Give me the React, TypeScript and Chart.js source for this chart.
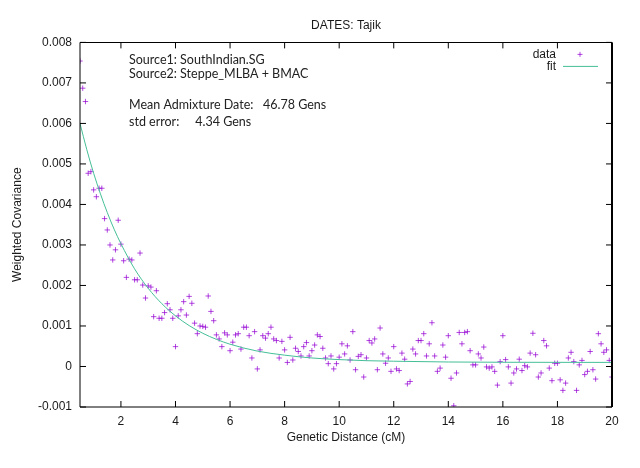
import React, { useEffect, useRef } from "react";
import { Chart, registerables } from "chart.js";

Chart.register(...registerables);

// ---------- text ----------
const chartTitle = "DATES: Tajik";
const xAxisTitle = "Genetic Distance (cM)";
const yAxisTitle = "Weighted Covariance";
const dataLabel = "data";
const fitLabel = "fit";
const infoLines = [
  "Source1: SouthIndian.SG",
  "Source2: Steppe_MLBA + BMAC",
  "",
  "Mean Admixture Date:   46.78 Gens",
  "std error:     4.34 Gens",
];

// ---------- axes ----------
const xMin = 0.5;
const xMax = 20;
const yMin = -0.001;
const yMax = 0.008;
const xTicks = [2, 4, 6, 8, 10, 12, 14, 16, 18, 20];
const xTickLabels = ["2", "4", "6", "8", "10", "12", "14", "16", "18", "20"];
const yTicks = [-0.001, 0, 0.001, 0.002, 0.003, 0.004, 0.005, 0.006, 0.007, 0.008];
const yTickLabels = ["-0.001", "0", "0.001", "0.002", "0.003", "0.004", "0.005", "0.006", "0.007", "0.008"];

// ---------- data: weighted covariance per 0.1 cM bin, from 0.5 cM ----------
const binStart = 0.5;
const binWidth = 0.1;
const covariance = [
  // 0.5 - 1.8
  0.00754, 0.00687, 0.00654, 0.00477, 0.00481, 0.00436, 0.00419, 0.0044, 0.0044, 0.00365,
  0.00337, 0.003, 0.00263, 0.00288,
  // 1.9 - 5.5
  0.00361, 0.00302, 0.00261, 0.0022, 0.00265, 0.00263, 0.00214, 0.00214, 0.0028, 0.00201,
  0.00169, 0.00199, 0.00196, 0.00123, 0.00187, 0.00119, 0.00119, 0.00133, 0.00155, 0.0014,
  0.00119, 0.00049, 0.00125, 0.0014, 0.0016, 0.00127, 0.00173, 0.00156, 0.00107, 0.00081,
  0.001, 0.00099, 0.00097, 0.00174, 0.00136, 0.00113, 0.00078,
  // 5.6 - 9.6
  0.00068, 0.00049, 0.00083, 0.00078, 0.00039, 0.0006, 0.00078, 0.00081, 0.00043, 0.00097,
  0.00097, 0.00076, 0.00021, 0.00086, -0.00006, 0.00041, 0.00076, 0.0007, 0.00081, 0.00097,
  0.00068, 0.00064, 0.00021, 0.00062, 0.00041, 0.0001, 0.00072, 0.00016, 0.00045, 0.00037,
  0.00026, 0.00049, 0.00059, 0.00026, 0.00039, 0.00053, 0.00078, 0.00074, 0.00045, 0.00021,
  0.00007,
  // 9.7 - 14.4
  0.00026, -0.00006, 0.00007, 0.00023, 0.00056, 0.00031, 0.00051, 0.00016, 0.00086, -0.00008,
  0.00025, 0.00029, -0.00026, 0.00021, 0.00064, 0.00058, 0.00068, -0.00008, 0.00095, 0.00031,
  0.00008, 0.00021, -0.00012, 0.00049, -0.00006, -0.0001, 0.00033, 0.00018, -0.00043, -0.00037,
  0.00043, 0.00031, 0.00064, 0.00064, 0.00081, 0.00026, 0.00056, 0.00108, 0.00026, -0.00012,
  -0.00004, 0.00053, 0.00023, 0.00076, -0.00029, -0.00097, -0.00016, 0.00084,
  // 14.5 - 20.0
  0.00056, 0.00084, 0.00086, 0.00039, 0.00004, 0.00004, 0.00031, 0.00021, 0.00048, -0.00001,
  -0.00004, -0.00001, -0.00012, -0.00046, 0.00012, 0.00076, 0.00017, -0.00001, -0.00041, -0.00016,
  -0.00006, 0.00018, -0.0001, 0.00002, -0.00001, 0.00033, 0.00082, 0.00029, -0.00026, -0.00016,
  0.00064, 0.00051, -0.00004, -0.00035, 0.00008, 0.00008, -0.00033, -0.00059, -0.00041, 0.00021,
  0.00035, 0.00012, -0.00059, 0.00004, 0.00015, -0.0002, -0.00012, 0.00037, -0.00008, -0.00031,
  0.00081, 0.00056, 0.00035, 0.00041, 0.00015, -0.00026,
];

// ---------- fitted curve ----------
const fitDistances = [0.5, 0.75, 1, 1.25, 1.5, 1.75, 2, 2.5, 3, 3.5, 4, 4.5, 5, 5.5, 6, 7, 8, 9, 10, 11, 12, 14, 16, 18, 20];
const fitValues = [
  0.006, 0.00535, 0.00477, 0.00426, 0.0038, 0.00339, 0.00303, 0.00241, 0.00193, 0.00155,
  0.00125, 0.00101, 0.00082, 0.00067, 0.00055, 0.00038, 0.00028, 0.00021, 0.00017, 0.000143,
  0.00013, 0.000111, 0.000104, 0.000102, 0.000101,
];

const dataColor = "rgba(148, 0, 211, 0.72)";
const fitColor = "#45bf98";
const frameColor = "#000000";
const labelFont = "Liberation Sans";
const infoFont = "Lato";

const framePlugin = {
  id: "gnuplotFrame",
  afterDraw(chart: any) {
    const { ctx, chartArea: a, scales } = chart;
    const xs = scales.x;
    const ys = scales.y;
    ctx.save();
    ctx.strokeStyle = frameColor;
    ctx.lineWidth = 1;
    // border
    ctx.beginPath();
    ctx.moveTo(a.left, Math.round(a.top) + 0.5);
    ctx.lineTo(a.right, Math.round(a.top) + 0.5);
    ctx.moveTo(a.left, a.top);
    ctx.lineTo(a.left, a.bottom);
    ctx.lineTo(a.right, a.bottom);
    ctx.stroke();
    ctx.lineWidth = 2;
    ctx.beginPath();
    ctx.moveTo(a.right, a.top);
    ctx.lineTo(a.right, a.bottom);
    ctx.stroke();
    // inward ticks on all four sides
    ctx.lineWidth = 1;
    const tl = 6;
    ctx.beginPath();
    xTicks.forEach((v) => {
      const px = xs.getPixelForValue(v);
      ctx.moveTo(px, a.bottom);
      ctx.lineTo(px, a.bottom - tl);
      ctx.moveTo(px, a.top);
      ctx.lineTo(px, a.top + tl);
    });
    yTicks.forEach((v) => {
      const py = ys.getPixelForValue(v);
      ctx.moveTo(a.left, py);
      ctx.lineTo(a.left + tl, py);
      ctx.moveTo(a.right, py);
      ctx.lineTo(a.right - tl, py);
    });
    ctx.stroke();

    // info block
    ctx.fillStyle = "#222222";
    ctx.font = `12.5px ${infoFont}`;
    ctx.textAlign = "left";
    ctx.textBaseline = "middle";
    const infoX = a.left + 49;
    const infoY = [a.top + 18, a.top + 32, 0, a.top + 63, a.top + 80];
    infoLines.forEach((t, i) => {
      if (t) ctx.fillText(t, infoX, infoY[i]);
    });

    // legend
    ctx.font = `12px ${labelFont}`;
    ctx.fillStyle = "#1a1a1a";
    ctx.textAlign = "right";
    const legTextX = a.right - 56;
    const legY1 = a.top + 12;
    const legY2 = a.top + 24;
    ctx.fillText(dataLabel, legTextX, legY1);
    ctx.fillText(fitLabel, legTextX, legY2);
    ctx.strokeStyle = dataColor;
    ctx.lineWidth = 1;
    ctx.beginPath();
    const cx = a.right - 32;
    ctx.moveTo(cx - 2.5, legY1);
    ctx.lineTo(cx + 2.5, legY1);
    ctx.moveTo(cx, legY1 - 2.5);
    ctx.lineTo(cx, legY1 + 2.5);
    ctx.stroke();
    ctx.strokeStyle = fitColor;
    ctx.beginPath();
    ctx.moveTo(a.right - 49, legY2);
    ctx.lineTo(a.right - 14, legY2);
    ctx.stroke();
    ctx.restore();
  },
};

export default function App() {
  const ref = useRef<HTMLCanvasElement | null>(null);

  useEffect(() => {
    document.body.style.margin = "0";
    const canvas = ref.current;
    if (!canvas) return;
    const points = covariance.map((v, i) => ({
      x: Math.round((binStart + i * binWidth) * 10) / 10,
      y: v,
    }));
    const fitPoints = fitDistances.map((d, i) => ({ x: d, y: fitValues[i] }));

    const chart = new Chart(canvas, {
      type: "scatter",
      data: {
        datasets: [
          {
            label: fitLabel,
            data: fitPoints,
            showLine: true,
            borderColor: fitColor,
            borderWidth: 1,
            pointRadius: 0,
            cubicInterpolationMode: "monotone",
            fill: false,
          } as any,
          {
            label: dataLabel,
            data: points,
            pointStyle: "cross",
            pointRadius: 2.7,
            pointBorderWidth: 1,
            pointBorderColor: dataColor,
            pointBackgroundColor: dataColor,
            showLine: false,
          },
        ],
      },
      options: {
        responsive: false,
        animation: false,
        events: [],
        layout: { padding: { left: 0, right: 28, top: 0, bottom: 0 } },
        plugins: {
          legend: { display: false },
          tooltip: { enabled: false },
          title: {
            display: true,
            text: chartTitle,
            fullSize: false,
            color: "#1a1a1a",
            font: { family: labelFont, size: 12, weight: "normal" },
            padding: { top: 18, bottom: 10 },
          },
        },
        scales: {
          x: {
            type: "linear",
            min: xMin,
            max: xMax,
            grid: { display: false, drawTicks: false },
            border: { display: false },
            afterBuildTicks: (s: any) => {
              s.ticks = xTicks.map((v) => ({ value: v }));
            },
            afterFit: (s: any) => {
              s.height = 61;
            },
            ticks: {
              color: "#1a1a1a",
              padding: 7,
              maxRotation: 0,
              autoSkip: false,
              font: { family: labelFont, size: 12 },
              callback: (v: any) => {
                const i = xTicks.indexOf(Number(v));
                return i >= 0 ? xTickLabels[i] : "";
              },
            },
            title: {
              display: true,
              text: xAxisTitle,
              color: "#1a1a1a",
              font: { family: labelFont, size: 12 },
              padding: { top: 0, bottom: 23.5 },
            },
          },
          y: {
            type: "linear",
            min: yMin,
            max: yMax,
            grid: { display: false, drawTicks: false },
            border: { display: false },
            afterBuildTicks: (s: any) => {
              s.ticks = yTicks.map((v) => ({ value: v }));
            },
            afterFit: (s: any) => {
              s.width = 80;
            },
            ticks: {
              color: "#1a1a1a",
              padding: 8,
              autoSkip: false,
              font: { family: labelFont, size: 12 },
              callback: (v: any) => {
                const i = yTicks.findIndex((t) => Math.abs(t - Number(v)) < 1e-9);
                return i >= 0 ? yTickLabels[i] : "";
              },
            },
            title: {
              display: true,
              text: yAxisTitle,
              color: "#1a1a1a",
              font: { family: labelFont, size: 12 },
              padding: { top: 10, bottom: 0 },
            },
          },
        },
      },
      plugins: [framePlugin],
    } as any);
    return () => chart.destroy();
  }, []);

  return (
    <canvas
      ref={ref}
      width={640}
      height={468}
      style={{ display: "block", width: 640, height: 468 }}
    />
  );
}
